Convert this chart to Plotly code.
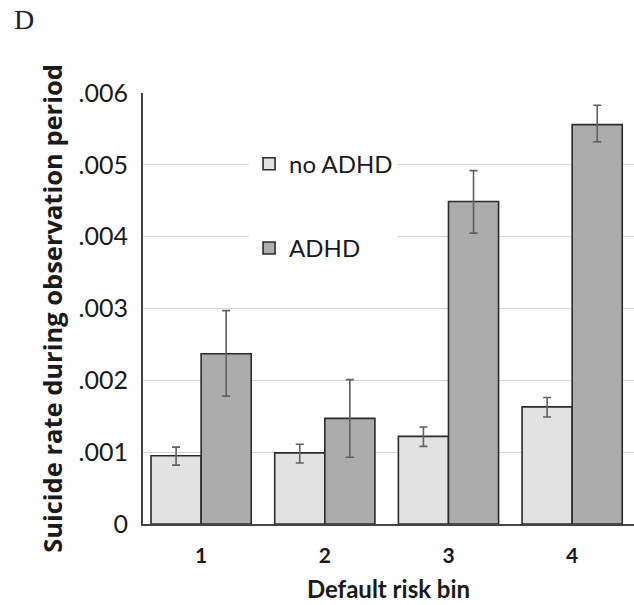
import plotly.graph_objects as go

bins = ["1", "2", "3", "4"]
no_adhd = [0.00095, 0.00099, 0.00122, 0.00163]
no_adhd_hi = [0.00107, 0.00111, 0.00135, 0.00176]
no_adhd_lo = [0.00082, 0.00085, 0.00108, 0.00149]
adhd = [0.00237, 0.00147, 0.00449, 0.00556]
adhd_hi = [0.00297, 0.00201, 0.00492, 0.00583]
adhd_lo = [0.00178, 0.00093, 0.00405, 0.00532]
ytick_vals = [0, 0.001, 0.002, 0.003, 0.004, 0.005, 0.006]
ytick_text = ["0", ".001", ".002", ".003", ".004", ".005", ".006"]

fig = go.Figure()

def add(name, vals, hi, lo, color, group):
    fig.add_trace(go.Bar(
        x=bins, y=vals, name=name, legendgroup=group,
        marker=dict(color=color, line=dict(color="#2b2b2b", width=1.6)),
        error_y=dict(type="data", symmetric=False,
                     array=[h - v for h, v in zip(hi, vals)],
                     arrayminus=[v - l for v, l in zip(vals, lo)],
                     color="#606060", thickness=1.6, width=4),
    ))

add("no ADHD", no_adhd, no_adhd_hi, no_adhd_lo, "#e2e2e2", "a")
add("ADHD", adhd, adhd_hi, adhd_lo, "#acacac", "b")

fig.update_layout(
    width=634, height=605,
    margin=dict(l=143, r=0, t=93, b=81),
    plot_bgcolor="white", paper_bgcolor="white",
    barmode="group", bargap=0.19, bargroupgap=0,
    font=dict(family="Lato, Carlito, sans-serif", color="#1a1a1a"),
    legend=dict(x=0.216, y=0.887, xanchor="left", yanchor="top",
                bgcolor="white", font=dict(size=24, color="#1a1a1a"),
                traceorder="grouped", tracegroupgap=50,
                itemwidth=30),
    showlegend=True,
)
fig.add_annotation(text="D", xref="paper", yref="paper",
                   x=-131/491, y=1 + (93 - 20)/431,
                   xanchor="left", yanchor="middle", showarrow=False,
                   font=dict(family="Liberation Serif, serif", size=28, color="#222"))

fig.update_yaxes(
    range=[0, 0.006], tickvals=ytick_vals, ticktext=ytick_text,
    showgrid=True, gridcolor="#d6d6d6", gridwidth=1.3,
    showline=True, linecolor="#444", linewidth=2,
    ticks="", ticklabelstandoff=8,
    tickfont=dict(size=25, color="#1a1a1a"),
    title=dict(text="<b>Suicide rate during observation period</b>",
               font=dict(family="Open Sans, sans-serif", size=25.5, color="#1a1a1a"),
               standoff=9),
    zeroline=False,
)
fig.update_xaxes(
    range=[-0.47, 3.5], type="category",
    showline=True, linecolor="#444", linewidth=2,
    ticks="", ticklabelstandoff=12,
    tickvals=bins, ticktext=["<b>%s</b>" % b for b in bins],
    tickfont=dict(size=21, color="#1a1a1a"),
    title=dict(text="<b>Default risk bin</b>",
               font=dict(size=24, color="#1a1a1a"), standoff=15),
)

fig.write_html("out.html")
